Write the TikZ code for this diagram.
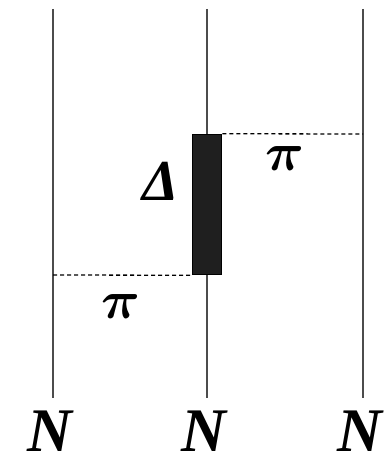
\documentclass[tikz,border=0pt]{standalone}
\usepackage{bm}
\usepackage{fontspec}
\setmainfont{Liberation Serif}
\begin{document}
\begin{tikzpicture}[x=1pt,y=-1pt,
  strand/.style={draw=black!70, line width=1.5pt},
  link/.style={draw=black, line width=1.3pt, dash pattern=on 4pt off 3pt},
  lab/.style={font=\fontsize{62}{62}\selectfont\bfseries\itshape, inner sep=0pt, anchor=base},
  greek/.style={scale=5.4, inner sep=0pt},
  dgreek/.style={font=\fontsize{58}{58}\selectfont\bfseries\itshape, inner sep=0pt},
  delta/.style={draw=black, fill=black!88, line width=1.5pt, minimum width=29pt, minimum height=140pt, inner sep=0pt}]
\useasboundingbox (0,0) rectangle (383,454);
\fill[white] (0,0) rectangle (383,454);
% strand coordinates
\coordinate (t1) at (53,9);
\coordinate (t2) at (207,9);
\coordinate (t3) at (363,9);
\coordinate (b1) at (53,398);
\coordinate (b2) at (207,398);
\coordinate (b3) at (363,398);
\draw[strand] (t1) -- (b1);
\draw[strand] (t2) -- (b2);
\draw[strand] (t3) -- (b3);
% Delta box
\node[delta] (d) at (207,204.5) {};
\coordinate (c1) at (363,134);
\coordinate (c2) at (53,275);
\draw[link] (d.north east) -- (c1);
\draw[link] (c2) -- (d.south west);
% labels
\node[greek] (pi1) at (285,159) {$\bm{\pi}$};
\node[greek] (pi2) at (121,306) {$\bm{\pi}$};
\node[dgreek] (dl) at (161,181) {Δ};
\node[lab] (n1) at (50,451) {N};
\node[lab] (n2) at (204,451) {N};
\node[lab] (n3) at (360,451) {N};
\end{tikzpicture}
\end{document}
